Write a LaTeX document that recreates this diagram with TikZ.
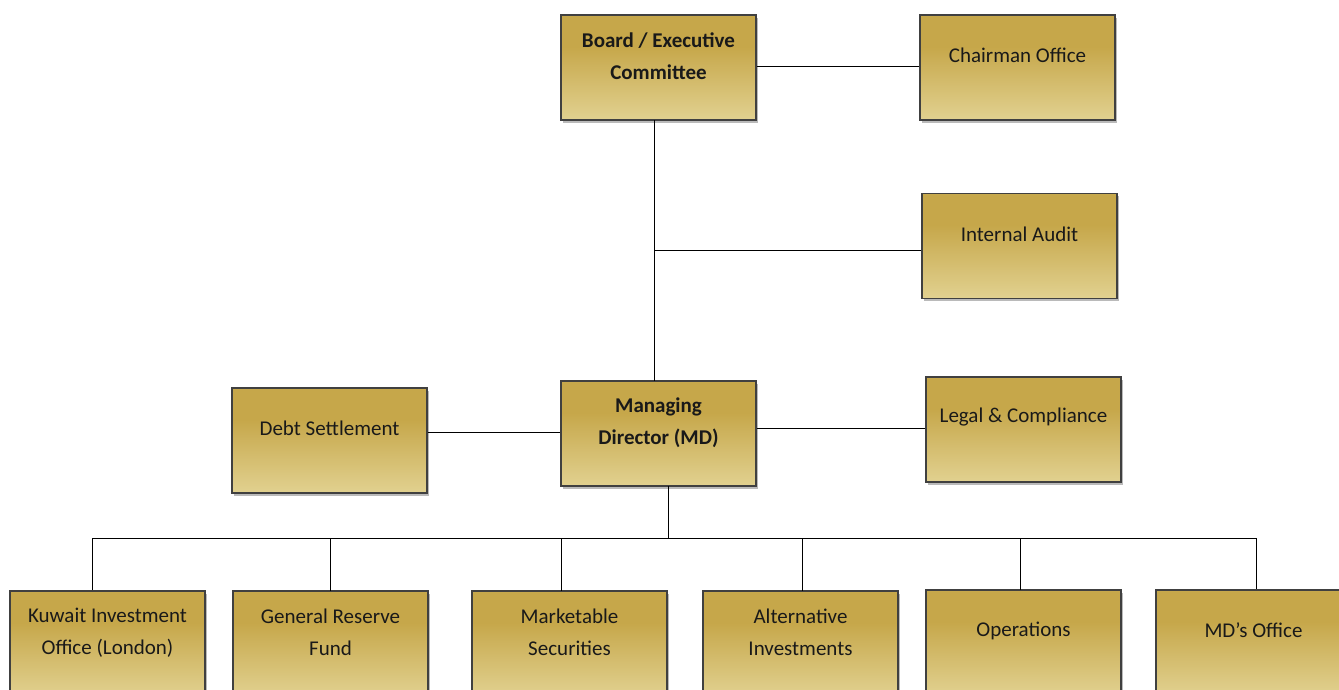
\documentclass[tikz,border=0pt]{standalone}
\usepackage{fontspec}
\setmainfont{Carlito}
\usetikzlibrary{shadows}
\definecolor{goldtop}{HTML}{E5D08A}
\definecolor{golddark}{HTML}{C6A74A}
\definecolor{goldbot}{HTML}{E9DDA4}
\pgfdeclareverticalshading{goldshade}{100bp}{color(0bp)=(goldbot); color(15bp)=(goldbot); color(60bp)=(golddark); color(74bp)=(golddark); color(93bp)=(goldtop); color(100bp)=(goldtop)}
\begin{document}
\begin{tikzpicture}[x=1pt,y=-1pt,
  box/.style={draw=black!75, line width=1.1pt, shading=goldshade, minimum width=195pt, minimum height=105pt, inner sep=0pt,
    drop shadow={shadow xshift=2pt, shadow yshift=-2.5pt, opacity=0.45, fill=black!60}},
  txt/.style={align=center, font=\fontsize{21}{32}\selectfont, text=black!90},
  btxt/.style={txt, font=\fontsize{21}{32}\selectfont\bfseries},
  conn/.style={draw=black, line width=1pt}]
\useasboundingbox (0,0) rectangle (1339,689);
\fill[white] (0,0) rectangle (1339,689);
\begin{scope}
\clip (0,0) rectangle (1339,689);
\coordinate (bt) at (654,120);
\coordinate (mt) at (654,381);
\coordinate (ia) at (654,250);
\coordinate (mb) at (668,486);
\coordinate (bus) at (668,538);
\coordinate (busL) at (92,538);
\coordinate (busR) at (1256,538);

\node[box] (board) at (658.5,67.5) {};
\node[box] (chair) at (1017.5,67.5) {};
\node[box] (audit) at (1019.5,246) {};
\node[box] (debt) at (329.5,440.5) {};
\node[box] (md) at (658.5,433.5) {};
\node[box] (legal) at (1023.5,429.5) {};
\node[box] (kio) at (107.5,643.5) {};
\node[box] (grf) at (330.5,643.5) {};
\node[box] (ms) at (569.5,643.5) {};
\node[box] (ai) at (800.5,643.5) {};
\node[box] (ops) at (1023.5,642.5) {};
\node[box] (mdo) at (1253.5,642.5) {};

\draw[conn] (board.east |- 0,66) -- (chair.west |- 0,66);
\draw[conn] (bt) -- (mt);
\draw[conn] (ia) -- (audit.west |- ia);
\draw[conn] (debt.east |- 0,432) -- (md.west |- 0,432);
\draw[conn] (md.east |- 0,428) -- (legal.west |- 0,428);
\draw[conn] (mb) -- (bus);
\draw[conn] (busL) -- (busR);
\draw[conn] (busL) -- (busL |- kio.north);
\draw[conn] (330,538) -- (330,591);
\draw[conn] (561,538) -- (561,591);
\draw[conn] (802,538) -- (802,591);
\draw[conn] (1020,538) -- (1020,590);
\draw[conn] (busR) -- (busR |- mdo.north);

\node[btxt] at ([yshift=-42pt]board.north) {Board / Executive\\Committee};
\node[txt] at ([yshift=-41pt]chair.north) {Chairman Office};
\node[txt] at ([yshift=-41pt]audit.north) {Internal Audit};
\node[txt] at ([yshift=-41pt]debt.north) {Debt Settlement};
\node[btxt] at ([yshift=-42pt]md.north) {Managing\\Director (MD)};
\node[txt] at ([yshift=-41pt]legal.north) {Legal \& Compliance};
\node[txt] at ([yshift=-42pt]kio.north) {Kuwait Investment\\Office (London)};
\node[txt] at ([yshift=-42pt]grf.north) {General Reserve\\Fund};
\node[txt] at ([yshift=-42pt]ms.north) {Marketable\\Securities};
\node[txt] at ([yshift=-42pt]ai.north) {Alternative\\Investments};
\node[txt] at ([yshift=-41pt]ops.north) {Operations};
\node[txt] at ([yshift=-41pt]mdo.north) {MD’s Office};
\end{scope}
\end{tikzpicture}
\end{document}
